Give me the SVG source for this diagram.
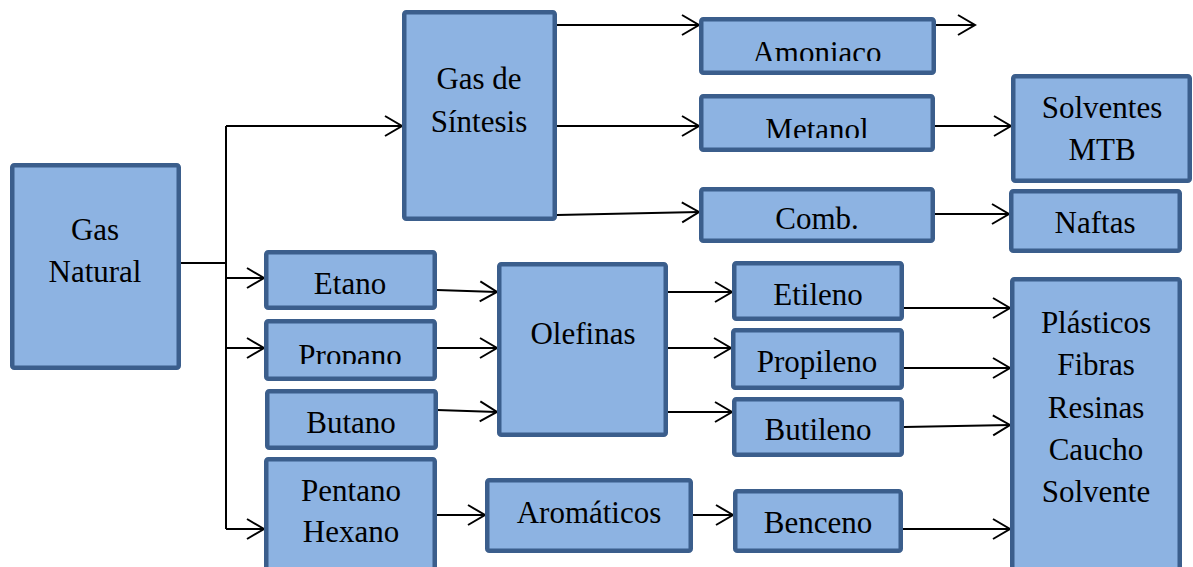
<svg xmlns="http://www.w3.org/2000/svg" width="1193" height="567" viewBox="0 0 1193 567">
  <style>
    .box { fill: #8DB3E2; stroke: #3B5E8C; stroke-width: 4.5; }
    .lbl { font-family: 'Liberation Serif', 'DejaVu Serif', serif; font-size: 31px; fill: #000; text-anchor: middle; }
    .wire { fill: none; stroke: #000; stroke-width: 2; }
  </style>
  <defs>
    <marker id="arr" markerUnits="userSpaceOnUse" markerWidth="24" markerHeight="24" viewBox="-20 -12 24 24" refX="0" refY="0" orient="auto" overflow="visible">
      <path d="M-17,-10 L0,0 L-17,10" fill="none" stroke="#000" stroke-width="2"/>
    </marker>
    <clipPath id="clipAmoniaco"><rect x="700" y="18" width="235" height="43"/></clipPath>
    <clipPath id="clipMetanol"><rect x="700" y="95" width="235" height="43"/></clipPath>
    <clipPath id="clipPropano"><rect x="265" y="320" width="171" height="44"/></clipPath>
  </defs>

  <!-- connectors -->
  <g id="connectors" class="wire">
    <path d="M181,263 H226"/>
    <path d="M226,126 V529"/>
    <path d="M226,126 H402" marker-end="url(#arr)"/>
    <path d="M226,278 H264" marker-end="url(#arr)"/>
    <path d="M226,348 H264" marker-end="url(#arr)"/>
    <path d="M226,529 H264" marker-end="url(#arr)"/>
    <path d="M557,25 H699" marker-end="url(#arr)"/>
    <path d="M557,126 H699" marker-end="url(#arr)"/>
    <path d="M557,215 L699,212" marker-end="url(#arr)"/>
    <path d="M936,25 H975" marker-end="url(#arr)"/>
    <path d="M935,126 H1011" marker-end="url(#arr)"/>
    <path d="M935,214 H1009" marker-end="url(#arr)"/>
    <path d="M437,290 L497,292" marker-end="url(#arr)"/>
    <path d="M437,348 H497" marker-end="url(#arr)"/>
    <path d="M437,410 L497,412" marker-end="url(#arr)"/>
    <path d="M668,292 H732" marker-end="url(#arr)"/>
    <path d="M668,348 H731" marker-end="url(#arr)"/>
    <path d="M668,412 H732" marker-end="url(#arr)"/>
    <path d="M904,308 H1010" marker-end="url(#arr)"/>
    <path d="M904,368 H1010" marker-end="url(#arr)"/>
    <path d="M904,427 L1010,425" marker-end="url(#arr)"/>
    <path d="M437,515 H485" marker-end="url(#arr)"/>
    <path d="M693,515 H733" marker-end="url(#arr)"/>
    <path d="M903,529 H1010" marker-end="url(#arr)"/>
  </g>

  <g font-family="Liberation Serif, DejaVu Serif, serif">
  <g id="gas-natural">
    <rect class="box" x="12.25" y="165.25" width="166.5" height="202.5" rx="2"/>
    <text class="lbl" x="95" y="240">Gas</text>
    <text class="lbl" x="95" y="282">Natural</text>
  </g>

  <g id="gas-sintesis">
    <rect class="box" x="404.25" y="12.25" width="150.5" height="206.5" rx="2"/>
    <text class="lbl" x="479" y="89">Gas de</text>
    <text class="lbl" x="479" y="132">Síntesis</text>
  </g>

  <g id="amoniaco">
    <rect class="box" x="701.25" y="19.25" width="232.5" height="53.5" rx="2"/>
    <text class="lbl" x="817" y="63" clip-path="url(#clipAmoniaco)">Amoniaco</text>
  </g>

  <g id="metanol">
    <rect class="box" x="701.25" y="96.25" width="231.5" height="53.5" rx="2"/>
    <text class="lbl" x="817" y="140" clip-path="url(#clipMetanol)">Metanol</text>
  </g>

  <g id="comb">
    <rect class="box" x="701.25" y="189.25" width="231.5" height="51.5" rx="2"/>
    <text class="lbl" x="817" y="229">Comb.</text>
  </g>

  <g id="solventes-mtb">
    <rect class="box" x="1013.25" y="76.25" width="176.5" height="104.5" rx="2"/>
    <text class="lbl" x="1102" y="118">Solventes</text>
    <text class="lbl" x="1102" y="160">MTB</text>
  </g>

  <g id="naftas">
    <rect class="box" x="1011.25" y="191.25" width="168.5" height="59.5" rx="2"/>
    <text class="lbl" x="1095" y="233">Naftas</text>
  </g>

  <g id="etano">
    <rect class="box" x="266.25" y="252.25" width="168.5" height="55.5" rx="2"/>
    <text class="lbl" x="350" y="294">Etano</text>
  </g>

  <g id="propano">
    <rect class="box" x="266.25" y="321.25" width="168.5" height="57.5" rx="2"/>
    <text class="lbl" x="350" y="366" clip-path="url(#clipPropano)">Propano</text>
  </g>

  <g id="butano">
    <rect class="box" x="267.25" y="391.25" width="168.5" height="56.5" rx="2"/>
    <text class="lbl" x="351" y="433">Butano</text>
  </g>

  <g id="pentano-hexano">
    <rect class="box" x="266.25" y="459.25" width="168.5" height="140" rx="2"/>
    <text class="lbl" x="351" y="501">Pentano</text>
    <text class="lbl" x="351" y="542">Hexano</text>
  </g>

  <g id="olefinas">
    <rect class="box" x="499.25" y="264.25" width="166.5" height="170.5" rx="2"/>
    <text class="lbl" x="583" y="344">Olefinas</text>
  </g>

  <g id="aromaticos">
    <rect class="box" x="487.25" y="480.25" width="203.5" height="70.5" rx="2"/>
    <text class="lbl" x="589" y="523">Aromáticos</text>
  </g>

  <g id="etileno">
    <rect class="box" x="734.25" y="263.25" width="167.5" height="55.5" rx="2"/>
    <text class="lbl" x="818" y="305">Etileno</text>
  </g>

  <g id="propileno">
    <rect class="box" x="733.25" y="330.25" width="168.5" height="57.5" rx="2"/>
    <text class="lbl" x="817" y="372">Propileno</text>
  </g>

  <g id="butileno">
    <rect class="box" x="734.25" y="399.25" width="167.5" height="55.5" rx="2"/>
    <text class="lbl" x="818" y="440">Butileno</text>
  </g>

  <g id="benceno">
    <rect class="box" x="735.25" y="491.25" width="165.5" height="59.5" rx="2"/>
    <text class="lbl" x="818" y="533">Benceno</text>
  </g>

  <g id="productos">
    <rect class="box" x="1012.25" y="279.25" width="167.5" height="330" rx="2"/>
    <text class="lbl" x="1096" y="333">Plásticos</text>
    <text class="lbl" x="1096" y="375">Fibras</text>
    <text class="lbl" x="1096" y="418">Resinas</text>
    <text class="lbl" x="1096" y="460">Caucho</text>
    <text class="lbl" x="1096" y="502">Solvente</text>
  </g>
  </g>
</svg>
